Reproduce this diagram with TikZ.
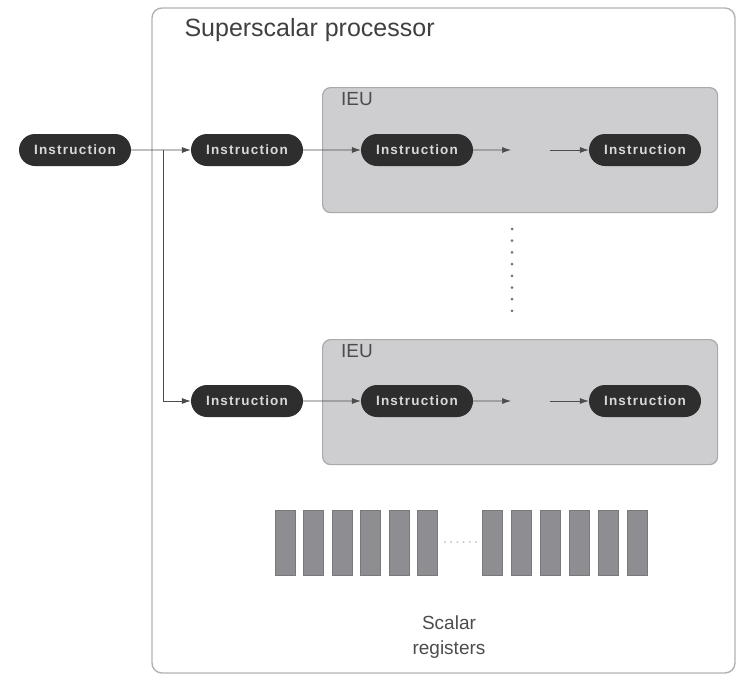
\documentclass[tikz,border=0pt]{standalone}
\usepackage{fontspec}
\setmainfont{Liberation Sans}
\newfontfamily\befehlfont[LetterSpace=9]{Liberation Sans}
\usetikzlibrary{positioning, shapes.misc, arrows.meta}
\definecolor{pille}{HTML}{2E2E2E}
\definecolor{ieugrau}{HTML}{CECED1}
\definecolor{rahmen}{HTML}{AAAAAA}
\definecolor{reggrau}{HTML}{8E8E92}
\tikzset{befehl/.style={rounded rectangle, fill=pille, text=black!15,
		minimum width=112pt, minimum height=32pt, inner sep=0pt,
		font=\befehlfont\bfseries\fontsize{13.5}{15}\selectfont},
	einheit/.style={draw=rahmen, fill=ieugrau, rounded corners=8pt, line width=1.2pt,
		minimum width=395pt, minimum height=125pt, anchor=north west},
	reg/.style={draw=reggrau!85!black, fill=reggrau, minimum width=20pt,
		minimum height=65pt, inner sep=0pt},
	pfeil/.style={draw=black!70, line width=0.7pt, -{Latex[length=9pt,width=6pt]}},
	punkt/.style={circle, fill=black!55, inner sep=0pt, minimum size=3pt},
	luecke/.style={circle, fill=black!25, inner sep=0pt, minimum size=2pt} }

\begin{document}
\begin{tikzpicture}[x=1pt, y=-1pt]
	\useasboundingbox (0,0) rectangle (745,683);

	% processor frame
	\draw[rahmen!90, line width=1.4pt, rounded corners=10pt] (152,8) rectangle (735,673);
	\node (titel) [anchor=west, text=black!75, font=\fontsize{25}{30}\selectfont]
		at (181,30) {Superscalar processor};

	% the two execution units
	\node (ieuA) [einheit] at (322,87) {};
	\node (ieuB) [einheit] at (322,339) {};
	\node (ieuAlabel) [anchor=north west, inner sep=0pt, text=black!70, font=\fontsize{19}{22}\selectfont]
		at (341,92) {IEU};
	\node (ieuBlabel) [anchor=north west, inner sep=0pt, text=black!70, font=\fontsize{19}{22}\selectfont]
		at (341,344) {IEU};

	% instructions
	\node (in)  [befehl] at (75,150)  {Instruction};
	\node (a1)  [befehl] at (247,150) {Instruction};
	\node (a2)  [befehl] at (417,150) {Instruction};
	\node (a3)  [befehl] at (645,150) {Instruction};
	\node (b1)  [befehl] at (247,401) {Instruction};
	\node (b2)  [befehl] at (417,401) {Instruction};
	\node (b3)  [befehl] at (645,401) {Instruction};

	\coordinate (abzw) at (163,150);
	\coordinate (am1) at (511,150);
	\coordinate (am2) at (550,150);
	\coordinate (bm1) at (511,401);
	\coordinate (bm2) at (550,401);

	\draw[pfeil] (in) -- (a1);
	\draw[pfeil] (abzw) |- (b1);
	\draw[pfeil] (a1) -- (a2);
	\draw[pfeil] (b1) -- (b2);
	\draw[pfeil] (a2) -- (am1);
	\draw[black!20, line width=0.6pt] (am1) -- (am2);
	\draw[pfeil] (am2) -- (a3);
	\draw[pfeil] (b2) -- (bm1);
	\draw[black!20, line width=0.6pt] (bm1) -- (bm2);
	\draw[pfeil] (bm2) -- (b3);

	% more units in between
	\foreach \i in {0,...,7}
		\node (d\i) [punkt] at (512,{229+11.7*\i}) {};

	% scalar registers
	\foreach \x [count=\i] in {285,313.5,342,370.5,399,427.5}
		\node (rl\i) [reg] at (\x,542.5) {};
	\foreach \x [count=\i] in {492,521,550,579,608,637}
		\node (rr\i) [reg] at (\x,542.5) {};
	\foreach \i in {0,...,5}
		\node (g\i) [luecke] at ({445+6.2*\i},542) {};
	\node (regs) [align=center, text=black!70, font=\fontsize{19}{25}\selectfont]
		at (449,637) {Scalar\\registers};
\end{tikzpicture}
\end{document}
